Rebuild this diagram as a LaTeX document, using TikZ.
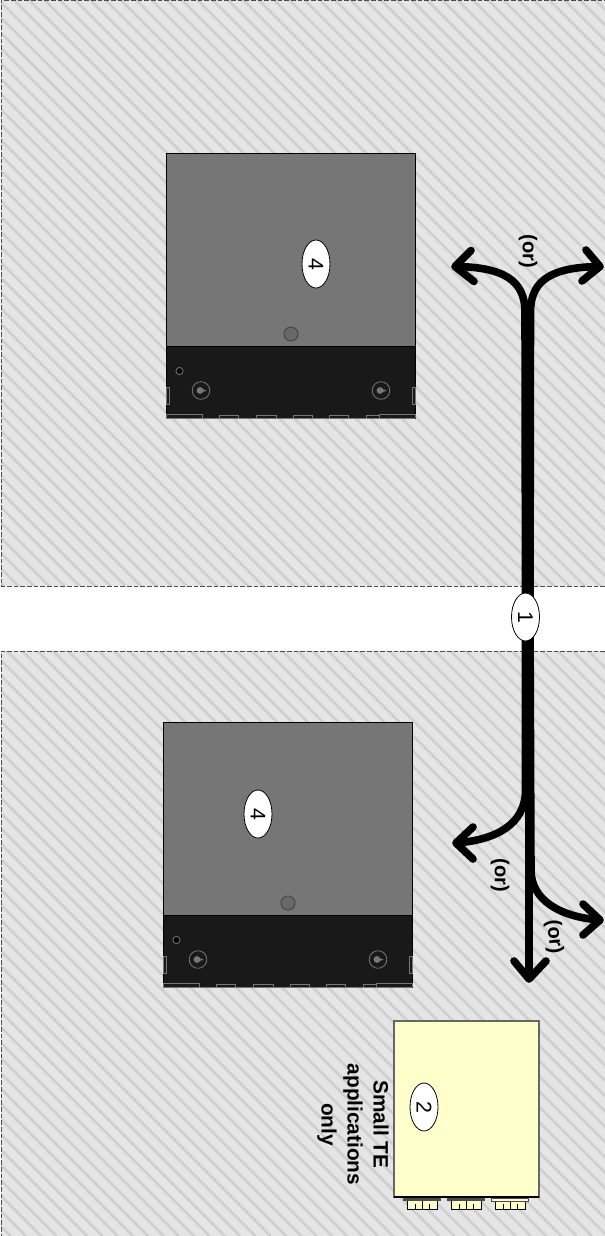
\documentclass[tikz,border=0pt]{standalone}
\usepackage{fontspec}
\setmainfont{Liberation Sans}
\usetikzlibrary{shapes.geometric,backgrounds}
\definecolor{hatchbg}{HTML}{E5E5E5}
\definecolor{hatchsoft}{HTML}{DBDBDB}
\definecolor{hatchln}{HTML}{CCCCCC}
\definecolor{boxgray}{HTML}{767676}
\definecolor{boxdark}{HTML}{191919}
\definecolor{detail}{HTML}{777777}
\definecolor{pale}{HTML}{FFFFCC}
\tikzset{
  zoneedge/.style={draw=black!70,line width=0.6pt,dash pattern=on 3.4pt off 1.6pt},
  stripesoft/.style={draw=hatchsoft,line width=2.6pt},
  stripe/.style={draw=hatchln,line width=1.1pt},
  callout/.style={ellipse,draw=black,fill=white,line width=0.6pt,minimum width=36pt,minimum height=21pt,inner sep=0pt,font=\fontsize{16}{16}\selectfont,rotate=-90},
  orlabel/.style={font=\bfseries\fontsize{15}{15}\selectfont,rotate=-90,inner sep=0pt},
  cable/.style={draw=black,line width=5.7pt,line cap=round,line join=round},
  unit/.style={draw=black,line width=0.6pt,fill=boxgray},
  unitbase/.style={draw=black,line width=0.6pt,fill=boxdark},
  trim/.style={draw=detail,line width=0.6pt},
  port/.style={draw=black,line width=0.7pt,fill=pale},
}
\newcommand{\unitdetails}{%
  \draw[unit] (166,153) rectangle (415,346);
  \draw[unitbase] (166,346) rectangle (415,418);
  \draw[draw=black!40!boxgray,fill=black!12!boxgray,line width=0.8pt] (291,334) circle[radius=7];
  \draw[trim,fill=black] (179.5,371) circle[radius=3.6];
  \foreach \kx in {201,381}{
    \draw[trim] (\kx,390.5) circle[radius=8.8];
    \fill[detail] (\kx-1,390.5) circle[radius=3.4];
    \fill[detail] (\kx-1,388.5) -- (\kx+5,390.2) -- (\kx+5,391) -- (\kx-1,392.5) -- cycle;
  }
  \draw[trim] (166,387.5) rectangle (169.5,404);
  \draw[trim] (412,387.5) rectangle (415.5,404);
  \draw[trim] (166,418) -- (166,414.5) -- (202,414.5) -- (202,418);
  \foreach \ta/\tb in {219/238.5,256/276,293/312,329/348,366/379}{
    \draw[trim] (\ta,418) -- (\ta,415.5) -- (\tb,415.5) -- (\tb,418);
  }
  \draw[trim] (379,418) -- (379,414.5) -- (415,414.5) -- (415,418);
  \draw[trim] (166,418) -- (415,418);
}
\begin{document}
\begin{tikzpicture}[x=0.75pt,y=-0.75pt]
\useasboundingbox (0,0) rectangle (605,1236);
\begin{pgfonlayer}{background}
\fill[white] (0,0) rectangle (605,1236);
\begin{scope}
  \clip (1,0) rectangle (605,586) (1,651) rectangle (605,1236);
  \fill[hatchbg] (0,0) rectangle (605,1236);
  \foreach \k in {-1225.4,-1210.1,...,620}{
    \draw[stripesoft] (\k,0) -- (\k+1236,1236);
    \draw[stripe] (\k,0) -- (\k+1236,1236);
  }
\end{scope}
\draw[zoneedge] (605,586) -- (1,586) -- (1,0) -- (605,0);
\draw[zoneedge] (605,651) -- (1,651) -- (1,1237);
\end{pgfonlayer}

% units
\unitdetails
\begin{scope}[shift={(-3,569)}]
\unitdetails
\end{scope}

% small unit
\draw[draw=black!60,fill=pale,line width=0.8pt] (394,1021) rectangle (539,1197);
\draw[black,line width=0.8pt] (394,1197) -- (539,1197);
\foreach \px/\py/\pfl in {407/1200/black!70,451/1200/black!70,495/1201/pale}{
  \draw[port] (\px,\py) rectangle (\px+30,1209);
  \draw[black,line width=0.7pt] (\px+15,\py) -- (\px+15,1209);
  \draw[black,line width=0.6pt] (\px+8,1204) -- (\px+8,1209);
  \draw[black,line width=0.6pt] (\px+22,1204) -- (\px+22,1209);
  \draw[draw=black!70,line width=0.6pt,fill=\pfl] (\px-4,1198.5) rectangle (\px+33,\py);
}

% callouts
\node[callout] (n1) at (525.5,617) {1};
\node[callout] (n4a) at (316,264) {4};
\node[callout] (n4b) at (258,814) {4};
\node[callout] (n2) at (424,1107) {2};

% connector end points
\coordinate (ta) at (525,312);
\coordinate (tb) at (530.5,312);
\coordinate (tl) at (455,266.5);
\coordinate (tr) at (600,266.5);
\coordinate (tl1) at (471,250.5);
\coordinate (tl2) at (474,281.5);
\coordinate (tr1) at (586,250);
\coordinate (tr2) at (582,281);
\coordinate (la) at (525.5,790);
\coordinate (ll) at (456,843);
\coordinate (ll1) at (473,827);
\coordinate (ll2) at (473,859);
\coordinate (lb) at (531,870);
\coordinate (lr) at (600,920);
\coordinate (lr1) at (583,904);
\coordinate (lr2) at (583,935);
\coordinate (ld) at (529,979);
\coordinate (ld1) at (514,961);
\coordinate (ld2) at (546,961);
\coordinate (n1a) at (525.5,617);
\coordinate (n1b) at (530,617);
\coordinate (n1c) at (529,617);

\begin{pgfonlayer}{background}
\draw[cable,line cap=butt] (n1a) -- (ta) .. controls (525,280) and (503,267) .. (tl);
\draw[cable,line cap=butt] (n1b) -- (tb) .. controls (530.5,280) and (552,267) .. (tr);
\draw[cable] (tl1) -- (tl) -- (tl2);
\draw[cable] (tr1) -- (tr) -- (tr2);
\draw[cable,line cap=butt] (n1a) -- (la) .. controls (525.5,825) and (495,840) .. (ll);
\draw[cable] (ll1) -- (ll) -- (ll2);
\draw[cable,line cap=butt] (n1b) -- (lb) .. controls (531,900) and (560,917) .. (lr);
\draw[cable] (lr1) -- (lr) -- (lr2);
\draw[cable,line cap=butt] (n1c) -- (ld);
\draw[cable] (ld1) -- (ld) -- (ld2);
\end{pgfonlayer}

% labels
\node[orlabel] (or1) at (528,251) {(or)};
\node[orlabel] (or2) at (500,875) {(or)};
\node[orlabel,rotate=5] (or3) at (554,937) {(or)};
\node[rotate=-90,font=\bfseries\fontsize{15.6}{19.5}\selectfont,align=center,inner sep=0pt] (small) at (353,1124.5) {Small TE\\applications\\only};
\end{tikzpicture}
\end{document}
